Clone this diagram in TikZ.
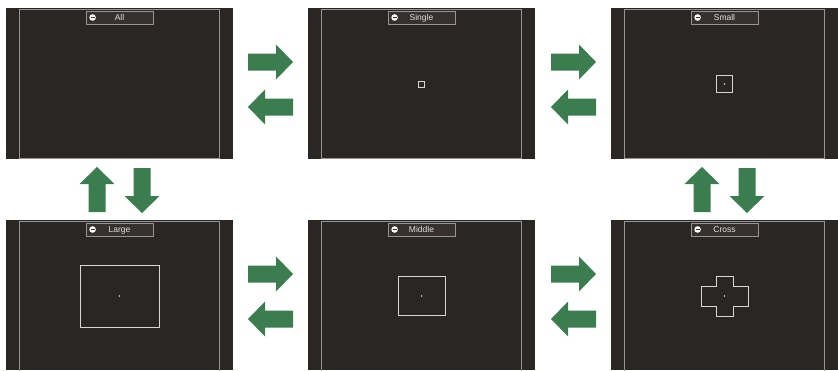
\documentclass[tikz,border=0pt]{standalone}
\usepackage{fontspec}
\setsansfont{Liberation Sans}
\usetikzlibrary{calc}
\definecolor{panelbg}{HTML}{2A2623}
\definecolor{framegray}{HTML}{959595}
\definecolor{labelbg}{HTML}{36312E}
\definecolor{markwhite}{HTML}{D6D6D6}
\definecolor{arrowgreen}{HTML}{3B7D4F}
\begin{document}
\begin{tikzpicture}[x=1pt,y=-1pt,
  panel/.style={fill=panelbg, draw=none, minimum width=227pt, minimum height=151pt, inner sep=0pt, outer sep=0pt},
  lowpanel/.style={panel, minimum height=150pt},
  frameline/.style={draw=framegray, line width=1pt},
  lbl/.style={draw=framegray, line width=0.8pt, fill=labelbg, minimum width=67pt, minimum height=13pt, inner sep=0pt, text height=6.3pt, text depth=1.2pt, text=white!88!black, font=\sffamily\fontsize{8.5}{9}\selectfont},
  aim/.style={draw=markwhite, line width=0.9pt},
  garrow/.pic={\fill[arrowgreen] (0,0) -- (-17,17.5) -- (-17,8.5) -- (-45,8.5) -- (-45,-8.5) -- (-17,-8.5) -- (-17,-17.5) -- cycle;}
]
\useasboundingbox (0,0) rectangle (838,370);
% panels
\node[panel] (all) at (119.5,83.5) {};
\node[panel] (single) at (421.5,83.5) {};
\node[panel] (small) at (724.5,83.5) {};
\node[lowpanel] (large) at (119.5,295) {};
\node[lowpanel] (middle) at (421.5,295) {};
\node[lowpanel] (cross) at (724.5,295) {};
% frames
\foreach \p in {all,single,small}{
  \draw[frameline] ($(\p.north west)+(13,1.5)$) rectangle ($(\p.south east)+(-13.5,-0.6)$);
}
\foreach \p in {large,middle,cross}{
  \draw[frameline] ($(\p.south west)+(13,2)$) |- ($(\p.north east)+(-13.5,1.5)$) -- ($(\p.south east)+(-13.5,2)$);
}
% labels
\foreach \p/\t in {all/All,single/Single,small/Small,large/Large,middle/Middle,cross/Cross}{
  \node[lbl] (\p-l) at ($(\p.north)+(0,9.5)$) {\t};
  \fill[white] ($(\p-l.west)+(7,0)$) circle (3.3);
  \fill[labelbg] ($(\p-l.west)+(5,-0.6)$) rectangle +(4,1.2);
}
% targets
\draw[aim] ($(single.center)+(-3,-2.5)$) rectangle +(6,6);
\draw[aim] ($(small.center)+(-8,-8.5)$) rectangle +(16,17);
\fill[markwhite] ($(small.center)+(0,0.5)$) circle (0.9);
\draw[aim] ($(large.center)+(-39.5,-30)$) rectangle +(79,62);
\fill[markwhite] ($(large.center)+(0,1)$) circle (0.9);
\draw[aim] ($(middle.center)+(-23.5,-19)$) rectangle +(47,39);
\fill[markwhite] ($(middle.center)+(0,1)$) circle (0.9);
\draw[aim, shift={($(cross.center)+(0,1)$)}] (-8.5,-20) -- (8.5,-20) -- (8.5,-10) -- (23.5,-10) -- (23.5,10) -- (8.5,10) -- (8.5,20) -- (-8.5,20) -- (-8.5,10) -- (-23.5,10) -- (-23.5,-10) -- (-8.5,-10) -- cycle;
\fill[markwhite] ($(cross.center)+(0,1)$) circle (0.9);
% arrows
\pic at (293,62) {garrow};
\pic[rotate=180] at (248,107) {garrow};
\pic at (596,62) {garrow};
\pic[rotate=180] at (551,107) {garrow};
\pic at (293,274) {garrow};
\pic[rotate=180] at (248,319) {garrow};
\pic at (596,274) {garrow};
\pic[rotate=180] at (551,319) {garrow};
\pic[rotate=90] at (97,167) {garrow};
\pic[rotate=-90] at (142,213) {garrow};
\pic[rotate=90] at (702,167) {garrow};
\pic[rotate=-90] at (747,213) {garrow};
\end{tikzpicture}
\end{document}
